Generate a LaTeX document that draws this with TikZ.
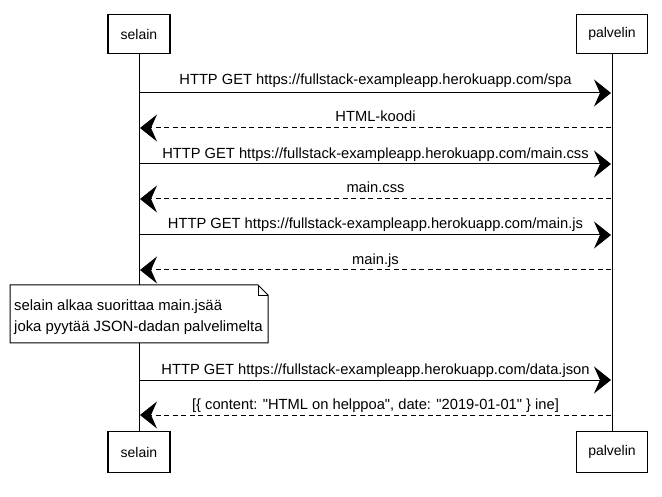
\documentclass[tikz,border=0pt]{standalone}
\usepackage{fontspec}
\setmainfont{Liberation Sans}[Ligatures=TeXOff]
\usetikzlibrary{arrows.meta}
\begin{document}
\begin{tikzpicture}[x=1pt,y=-1pt,
  actor/.style={draw, line width=1.1pt, fill=white, minimum height=39pt, inner sep=0pt, font=\fontsize{14}{16}\selectfont},
  lifeline/.style={line width=0.8pt},
  head/.style={-{Stealth[length=17pt,width=27pt,inset=6pt]}},
  req/.style={head, line width=1pt},
  resp/.style={head, line width=1pt, dash pattern=on 5pt off 3.5pt},
  msg/.style={font=\fontsize{14.7}{17}\selectfont, inner sep=1pt, anchor=base},
  notetext/.style={font=\fontsize{14.9}{17}\selectfont, inner sep=0pt, anchor=base west},
  notebox/.style={draw, line width=1pt, fill=white}]
\useasboundingbox (0,0) rectangle (662,497);

% participants
\node[actor, minimum width=62pt] (selT) at (139,34) {selain};
\node[actor, minimum width=71pt] (palT) at (612,34) {palvelin};
\node[actor, minimum width=62pt, minimum height=41pt] (selB) at (139,452) {selain};
\node[actor, minimum width=71pt, minimum height=41pt] (palB) at (612,452) {palvelin};

% lifelines
\draw[lifeline] (selT.south) -- (selB.north);
\draw[lifeline] (palT.south) -- (palB.north);

% message anchor points on the lifelines
\foreach \i/\y in {1/93, 2/128, 3/164, 4/199, 5/235, 6/270, 7/380, 8/415} {
  \coordinate (s\i) at (140,\y);
  \coordinate (p\i) at (611,\y);
}

% messages
\draw[req] (s1) -- (p1) node[msg, midway, yshift=8pt] {HTTP GET https://fullstack-exampleapp.herokuapp.com/spa};
\draw[resp] (p2) -- (s2) node[msg, midway, yshift=6pt] {HTML-koodi};
\draw[req] (s3) -- (p3) node[msg, midway, yshift=5pt] {HTTP GET https://fullstack-exampleapp.herokuapp.com/main.css};
\draw[resp] (p4) -- (s4) node[msg, midway, yshift=6pt] {main.css};
\draw[req] (s5) -- (p5) node[msg, midway, yshift=6pt] {HTTP GET https://fullstack-exampleapp.herokuapp.com/main.js};
\draw[resp] (p6) -- (s6) node[msg, midway, yshift=5pt] {main.js};
\draw[req] (s7) -- (p7) node[msg, midway, yshift=6pt] {HTTP GET https://fullstack-exampleapp.herokuapp.com/data.json};
\draw[resp] (p8) -- (s8) node[msg, midway, yshift=6pt] {[\{ content: "HTML on helppoa", date: "2019-01-01" \} ine]};

% note with folded corner
\draw[notebox] (10,285) -- (258,285) -- (268,295) -- (268,343) -- (10,343) -- cycle;
\draw[line width=0.8pt] (258,285) -- (258,295) -- (268,295);
\node[notetext] (note1) at (14,311) {selain alkaa suorittaa main.jsää};
\node[notetext] (note2) at (14,332) {joka pyytää JSON-dadan palvelimelta};
\end{tikzpicture}
\end{document}
